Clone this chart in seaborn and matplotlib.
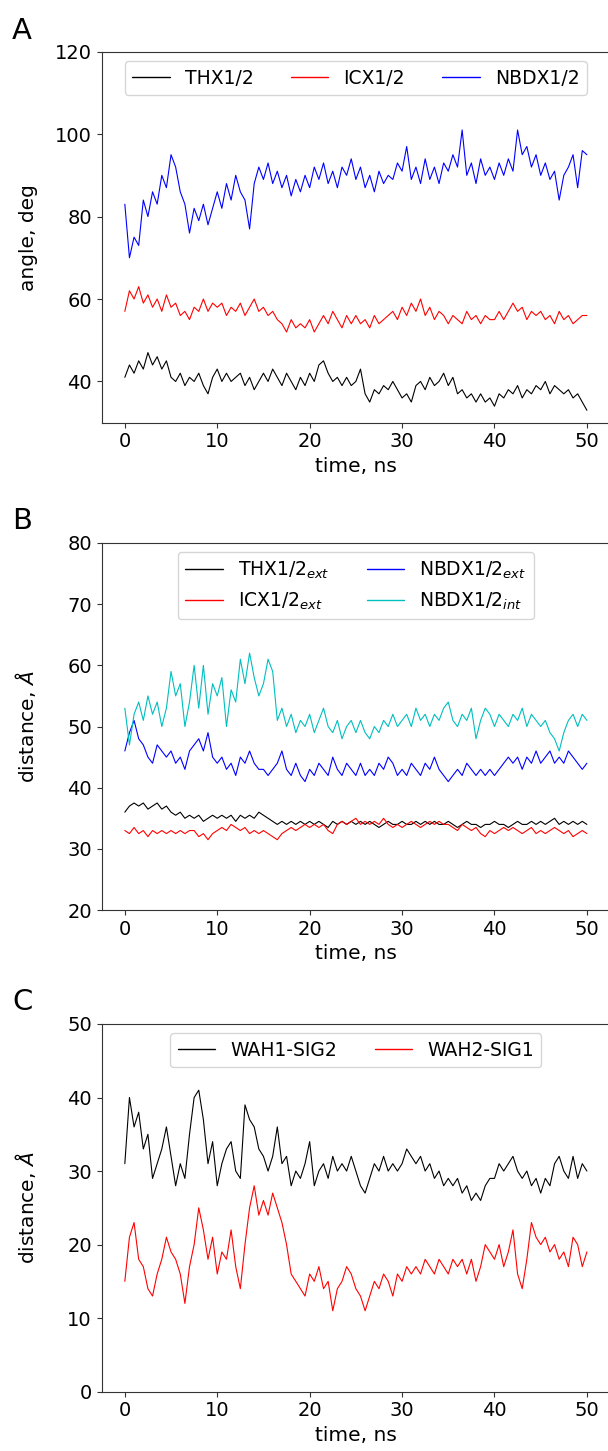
import matplotlib
matplotlib.use("Agg")
import matplotlib.pyplot as plt
import seaborn as sns
import numpy as np
import pandas as pd

TIME = np.arange(101) * 0.5

# Panel A: angles, deg
A_THX = [41, 44, 42, 45, 43, 47, 44, 46, 43, 45,
         41, 40, 42, 39, 41, 40, 42, 39, 37, 41,
         43, 40, 42, 40, 41, 42, 39, 41, 38, 40,
         42, 40, 43, 41, 39, 42, 40, 38, 41, 39,
         42, 40, 44, 45, 42, 40, 41, 39, 41, 39,
         40, 43, 37, 35, 38, 37, 39, 38, 40, 38,
         36, 37, 35, 39, 40, 38, 41, 39, 40, 42,
         39, 41, 37, 38, 36, 37, 35, 37, 35, 36,
         34, 37, 36, 38, 37, 39, 36, 38, 37, 39,
         38, 40, 37, 39, 38, 37, 38, 36, 37, 35,
         33]
A_ICX = [57, 62, 60, 63, 59, 61, 58, 60, 57, 61,
         58, 59, 56, 57, 55, 58, 57, 60, 57, 59,
         58, 59, 56, 58, 57, 59, 56, 58, 60, 57,
         58, 56, 57, 55, 54, 52, 55, 53, 54, 53,
         55, 52, 54, 56, 54, 57, 55, 53, 56, 54,
         56, 54, 55, 53, 56, 54, 55, 56, 57, 55,
         58, 56, 59, 57, 60, 56, 58, 55, 57, 56,
         54, 56, 55, 54, 57, 55, 56, 54, 56, 55,
         55, 57, 55, 57, 59, 57, 58, 55, 57, 56,
         57, 55, 56, 54, 57, 55, 56, 54, 55, 56,
         56]
A_NBDX = [83, 70, 75, 73, 84, 80, 86, 83, 90, 87,
          95, 92, 86, 83, 76, 82, 79, 83, 78, 82,
          86, 82, 88, 84, 90, 86, 84, 77, 88, 92,
          89, 93, 88, 91, 87, 90, 85, 89, 86, 90,
          87, 92, 89, 93, 88, 91, 87, 92, 90, 94,
          89, 92, 87, 90, 86, 91, 88, 90, 89, 93,
          91, 97, 89, 92, 88, 94, 89, 92, 88, 93,
          91, 95, 92, 101, 90, 93, 88, 94, 90, 92,
          89, 93, 90, 94, 91, 101, 95, 97, 92, 95,
          90, 93, 89, 91, 84, 90, 92, 95, 87, 96,
          95]

# Panel B: distances, Angstrom
B_THX = [36, 37, 37.5, 37, 37.5, 36.5, 37, 37.5, 36.5, 37,
         36, 35.5, 36, 35, 35.5, 35, 35.5, 34.5, 35, 35.5,
         35, 35.5, 35, 35.5, 34.5, 35.5, 35, 35.5, 35, 36,
         35.5, 35, 34.5, 34, 34.5, 34, 34.5, 34, 34.5, 34,
         34.5, 34, 34.5, 34, 33.5, 34.5, 34, 34.5, 34, 34.5,
         34, 34.5, 34, 34.5, 34, 33.5, 34, 34.5, 34, 34,
         34.5, 34, 34, 34.5, 34, 34.5, 34, 34.5, 34, 34,
         34.5, 34, 33.5, 34, 34.5, 34, 34, 33.5, 34, 34,
         34.5, 34, 34, 33.5, 34, 34.5, 34, 34, 34.5, 34,
         34.5, 34, 34.5, 35, 34, 34.5, 34, 34.5, 34, 34.5,
         34]
B_ICX = [33, 32.5, 33.5, 32.5, 33, 32, 33, 32.5, 33, 32.5,
         33, 32.5, 33, 32.5, 33, 33, 32, 32.5, 31.5, 32.5,
         33, 33.5, 33, 34, 33.5, 33, 33.5, 32.5, 33, 32.5,
         33, 32.5, 32, 31.5, 32.5, 33, 33.5, 33, 33.5, 34,
         33.5, 34, 33.5, 34, 33, 32.5, 34, 34.5, 34, 34.5,
         35, 34, 34.5, 34, 34.5, 34, 35, 34, 33.5, 34,
         33.5, 34, 34.5, 34, 33.5, 34, 34.5, 34, 34.5, 34,
         34, 33.5, 33, 34, 33.5, 33, 33.5, 32.5, 32, 33,
         32.5, 33, 33.5, 33, 33.5, 33, 32.5, 33, 33.5, 32.5,
         33, 32.5, 33, 33.5, 33, 32.5, 33, 32, 32.5, 33,
         32.5]
B_NBDX_EXT = [46, 49, 51, 48, 47, 45, 44, 47, 46, 45,
              46, 44, 45, 43, 46, 47, 48, 46, 49, 45,
              44, 45, 43, 44, 42, 45, 44, 46, 44, 43,
              43, 42, 43, 44, 46, 43, 42, 44, 42, 41,
              43, 42, 44, 43, 42, 45, 43, 42, 44, 43,
              42, 44, 42, 43, 42, 44, 43, 45, 44, 42,
              43, 42, 44, 43, 42, 44, 43, 45, 43, 42,
              41, 42, 43, 42, 44, 43, 42, 43, 42, 43,
              42, 43, 44, 45, 44, 45, 43, 45, 44, 46,
              44, 45, 46, 44, 45, 44, 46, 45, 44, 43,
              44]
B_NBDX_INT = [53, 47, 52, 54, 51, 55, 52, 54, 50, 53,
              59, 55, 57, 50, 54, 60, 53, 60, 52, 57,
              55, 58, 50, 56, 54, 61, 57, 62, 58, 55,
              57, 61, 59, 51, 53, 50, 52, 49, 51, 50,
              52, 49, 51, 53, 50, 49, 51, 48, 50, 51,
              49, 51, 49, 48, 50, 49, 51, 50, 52, 50,
              51, 52, 50, 53, 51, 52, 50, 52, 51, 53,
              54, 51, 50, 52, 51, 53, 48, 51, 53, 52,
              50, 52, 51, 50, 52, 51, 53, 50, 52, 51,
              50, 51, 49, 48, 46, 49, 51, 52, 50, 52,
              51]

# Panel C: distances, Angstrom
C_WAH1_SIG2 = [31, 40, 36, 38, 33, 35, 29, 31, 33, 36,
               32, 28, 31, 29, 35, 40, 41, 37, 31, 34,
               28, 31, 33, 34, 30, 29, 39, 37, 36, 33,
               32, 30, 32, 36, 31, 32, 28, 30, 29, 31,
               34, 28, 30, 31, 29, 32, 30, 31, 30, 32,
               30, 28, 27, 29, 31, 30, 32, 30, 31, 30,
               31, 33, 32, 31, 32, 30, 31, 29, 30, 28,
               29, 28, 29, 27, 28, 26, 27, 26, 28, 29,
               29, 31, 30, 31, 32, 30, 29, 30, 28, 29,
               27, 29, 28, 31, 32, 30, 29, 32, 29, 31,
               30]
C_WAH2_SIG1 = [15, 21, 23, 18, 17, 14, 13, 16, 18, 21,
               19, 18, 16, 12, 17, 20, 25, 22, 18, 21,
               16, 19, 18, 22, 17, 14, 20, 25, 28, 24,
               26, 24, 27, 25, 23, 20, 16, 15, 14, 13,
               16, 15, 17, 14, 15, 11, 14, 15, 17, 16,
               14, 13, 11, 13, 15, 14, 16, 15, 13, 16,
               15, 17, 16, 17, 16, 18, 17, 16, 18, 17,
               16, 18, 17, 18, 16, 18, 15, 17, 20, 19,
               18, 20, 17, 19, 22, 16, 14, 18, 23, 21,
               20, 21, 19, 20, 18, 19, 17, 21, 20, 17,
               19]

X_TICKS = [0, 10, 20, 30, 40, 50]
A_YTICKS = [40, 60, 80, 100, 120]
B_YTICKS = [20, 30, 40, 50, 60, 70, 80]
C_YTICKS = [0, 10, 20, 30, 40, 50]

# ── Style ─────────────────────────────────────────────────────────────────────
sns.set_style("ticks")
plt.rcParams.update({
    "font.family": ["DejaVu Sans"],
    "xtick.labelsize": 14,
    "ytick.labelsize": 14,
    "axes.labelsize": 14.5,
    "axes.edgecolor": "#333333",
    "xtick.color": "#333333",
    "ytick.color": "#333333",
    "xtick.labelcolor": "black",
    "ytick.labelcolor": "black",
    "text.color": "black",
    "axes.labelcolor": "black",
})

LW = 0.8


def panel(fig, rect, series, ylim, yticks, ylabel, ncol, letter, letter_y):
    ax = fig.add_axes(rect)
    for values, color, label in series:
        sns.lineplot(x=TIME, y=values, color=color, lw=LW, label=label,
                     ax=ax, errorbar=None, sort=False)
    ax.set_xlim(-2.5, 52.5)
    ax.set_ylim(*ylim)
    ax.set_xticks(X_TICKS)
    ax.set_yticks(yticks)
    ax.set_xlabel("time, ns")
    ax.set_ylabel(ylabel)
    ax.yaxis.set_label_coords(-0.125, 0.5)
    leg = ax.legend(loc="upper center", ncol=ncol, fontsize=13.5, frameon=True,
                    fancybox=True, framealpha=0.8, edgecolor="0.8")
    for line in leg.get_lines():
        line.set_linewidth(1.0)
    fig.text(0.02, letter_y, letter, fontsize=21, ha="left", va="baseline")
    return ax


fig = plt.figure(figsize=(6.08, 14.51), dpi=100)

panel(fig, [0.1673, 0.7087, 0.836, 0.2557],
      [(A_THX, "k", "THX1/2"), (A_ICX, "r", "ICX1/2"), (A_NBDX, "b", "NBDX1/2")],
      (30, 120), A_YTICKS, "angle, deg", 3, "A", 1 - 39 / 1451)

panel(fig, [0.1673, 0.3728, 0.836, 0.2530],
      [(B_THX, "k", r"THX1/2$_{ext}$"), (B_ICX, "r", r"ICX1/2$_{ext}$"),
       (B_NBDX_EXT, "b", r"NBDX1/2$_{ext}$"), (B_NBDX_INT, "c", r"NBDX1/2$_{int}$")],
      (20, 80), B_YTICKS, r"distance, $\AA$", 2, "B", 1 - 529 / 1451)

panel(fig, [0.1673, 0.0409, 0.836, 0.2534],
      [(C_WAH1_SIG2, "k", "WAH1-SIG2"), (C_WAH2_SIG1, "r", "WAH2-SIG1")],
      (0, 50), C_YTICKS, r"distance, $\AA$", 2, "C", 1 - 1010 / 1451)

fig.savefig("out.png", dpi=100)
